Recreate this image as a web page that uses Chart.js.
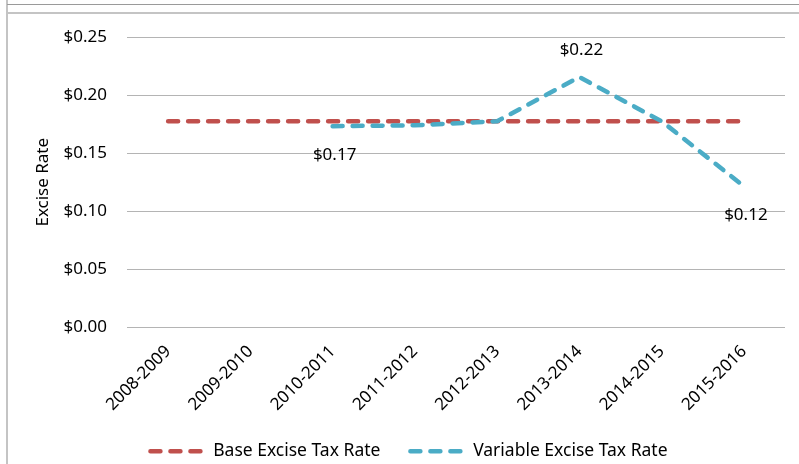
<!DOCTYPE html>
<html>
<head>
<meta charset="utf-8">
<script src="https://cdn.jsdelivr.net/npm/chart.js@4"></script>
<style>
  body { margin: 0; background: #fff; }
  #wrap { position: relative; width: 799px; height: 464px; }
  .ln { position: absolute; }
</style>
</head>
<body>
<div id="wrap">
  <div class="ln" style="left:6px;top:0;width:2px;height:464px;background:#c4c4c4"></div>
  <div class="ln" style="left:7px;top:4px;width:792px;height:1px;background:#9a9a9a"></div>
  <div class="ln" style="left:7px;top:12px;width:792px;height:2px;background:#c4c4c4"></div>
  <canvas id="container" width="799" height="464"></canvas>
</div>
<script>
const years = ["2008-2009", "2009-2010", "2010-2011", "2011-2012", "2012-2013", "2013-2014", "2014-2015", "2015-2016"];
const baseRate = [0.1775, 0.1775, 0.1775, 0.1775, 0.1775, 0.1775, 0.1775, 0.1775];
const variableRate = [null, null, 0.1733, 0.174, 0.1775, 0.2155, 0.1775, 0.1216];
const yTicks = [0, 0.05, 0.10, 0.15, 0.20, 0.25];
const labelledPoints = [2, 5, 7];

const font = "'Noto Sans', sans-serif";
const fs = 17;

// value labels on the variable line
const valueLabels = {
  id: "valueLabels",
  afterDatasetsDraw(chart) {
    const meta = chart.getDatasetMeta(1);
    const ctx = chart.ctx;
    ctx.save();
    ctx.font = fs + "px " + font;
    ctx.fillStyle = "#000";
    ctx.textAlign = "center";
    ctx.textBaseline = "middle";
    labelledPoints.forEach((i) => {
      const p = meta.data[i];
      const v = variableRate[i];
      const above = i === 5;
      ctx.fillText("$" + v.toFixed(2), p.x + 2, above ? p.y - 27 : p.y + 29);
    });
    ctx.restore();
  },
};

const config = {
  type: "line",
  data: {
    labels: years,
    datasets: [
      {
        label: "Base Excise Tax Rate",
        data: baseRate,
        borderColor: "#c0504d",
        backgroundColor: "#c0504d",
        borderWidth: 4.5,
        borderDash: [10, 10],
        borderCapStyle: "round",
        pointRadius: 0,
        tension: 0,
        order: 1,
      },
      {
        label: "Variable Excise Tax Rate",
        data: variableRate,
        borderColor: "#4bacc6",
        backgroundColor: "#4bacc6",
        borderWidth: 4.5,
        borderDash: [10, 10],
        borderCapStyle: "round",
        pointRadius: 0,
        tension: 0,
        spanGaps: false,
        order: 0,
      },
    ],
  },
  options: {
    responsive: false,
    animation: { duration: 0 },
    layout: { padding: { left: 33, top: 37, right: 14, bottom: -6 } },
    plugins: {
      legend: {
        display: true,
        position: "bottom",
        labels: {
          usePointStyle: true,
          pointStyle: "line",
          pointStyleWidth: 54,
          boxWidth: 54,
          boxHeight: 8,
          padding: 30,
          color: "#000",
          font: { family: font, size: 17.5 },
          sort: (a, b) => a.datasetIndex - b.datasetIndex,
          generateLabels: (chart) =>
            Chart.defaults.plugins.legend.labels.generateLabels(chart).map((item) => {
              const ds = chart.data.datasets[item.datasetIndex];
              return Object.assign(item, {
                lineDash: ds.borderDash,
                lineCap: "round",
                lineWidth: ds.borderWidth,
                strokeStyle: ds.borderColor,
              });
            }),
        },
      },
      tooltip: { enabled: false },
    },
    scales: {
      x: {
        offset: true,
        grid: { display: false },
        border: { display: false },
        ticks: {
          minRotation: 45,
          maxRotation: 45,
          color: "#000",
          padding: 6,
          font: { family: font, size: fs },
        },
        afterFit: (scale) => { scale.height = 85; },
      },
      y: {
        min: 0,
        max: 0.25,
        afterBuildTicks: (scale) => { scale.ticks = yTicks.map((v) => ({ value: v })); },
        grid: { color: "#b4b4b4", lineWidth: 1, drawTicks: false },
        border: { display: false },
        title: {
          display: true,
          text: "Excise Rate",
          color: "#000",
          font: { family: font, size: fs },
          padding: { top: 0, bottom: 0 },
        },
        ticks: {
          color: "#000",
          padding: 20,
          font: { family: font, size: fs },
          callback: (v) => "$" + Number(v).toFixed(2),
        },
        afterFit: (scale) => { scale.width = 94; },
      },
    },
  },
  plugins: [valueLabels],
};

const chart = new Chart(document.getElementById("container"), config);
</script>
</body>
</html>
